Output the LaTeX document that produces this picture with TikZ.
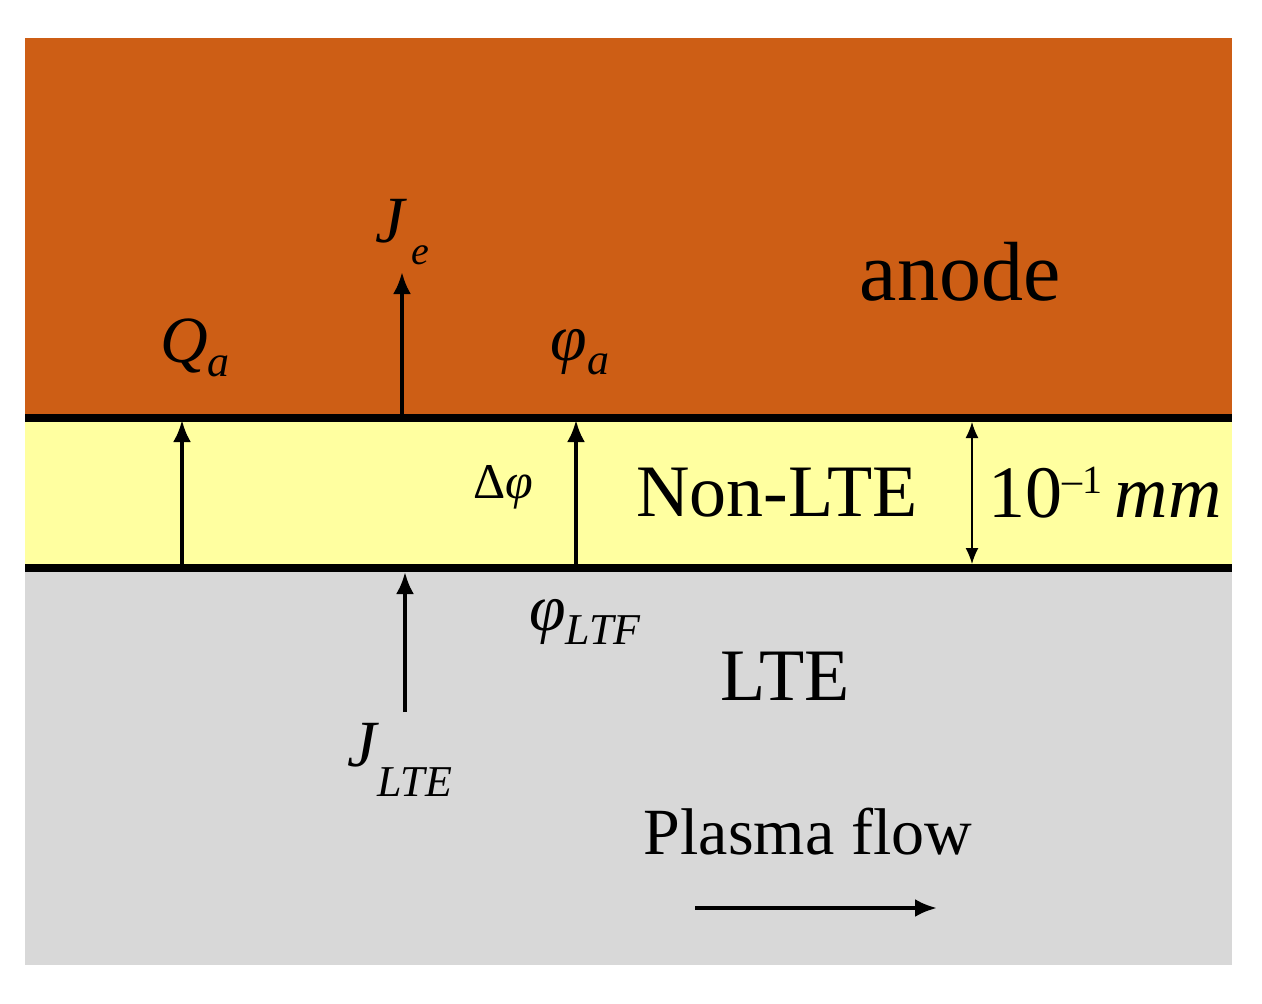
\documentclass[tikz,border=0pt]{standalone}
\usepackage{fontspec}
\setmainfont{Liberation Serif}
\usetikzlibrary{arrows.meta}
\newcommand{\mysub}[2]{\raisebox{#1}{\fontsize{#2}{#2}\selectfont\itshape}}
\begin{document}
\begin{tikzpicture}[x=1pt,y=-1pt,
  arr/.style={line width=4pt,-{Latex[length=22pt,width=18pt]}},
  lbl/.style={inner sep=0pt,font=\fontsize{66}{70}\selectfont}]
\useasboundingbox (0,0) rectangle (1262,1004);
\fill[white] (0,0) rectangle (1262,1004);
\fill[fill={rgb,255:red,205;green,94;blue,21}] (25,38) rectangle (1232,418);
\fill[fill={rgb,255:red,255;green,255;blue,160}] (25,418) rectangle (1232,568);
\fill[fill={rgb,255:red,216;green,216;blue,216}] (25,568) rectangle (1232,965);
\coordinate (tl) at (25,418); \coordinate (tr) at (1232,418);
\coordinate (bl) at (25,568); \coordinate (br) at (1232,568);
\draw[line width=8pt] (tl) -- (tr);
\draw[line width=8pt] (bl) -- (br);
\coordinate (q0) at (182,568); \coordinate (q1) at (182,420);
\coordinate (j0) at (402,418); \coordinate (j1) at (402,272);
\coordinate (d0) at (576,568); \coordinate (d1) at (576,420);
\coordinate (l0) at (405,712); \coordinate (l1) at (405,572);
\coordinate (p0) at (695,908); \coordinate (p1) at (937,908);
\coordinate (m0) at (972,422); \coordinate (m1) at (972,564);
\draw[arr] (q0) -- (q1);
\draw[arr] (j0) -- (j1);
\draw[arr] (d0) -- (d1);
\draw[arr] (l0) -- (l1);
\draw[arr] (p0) -- (p1);
\draw[line width=1.5pt,{Latex[length=16pt,width=13pt]}-{Latex[length=16pt,width=13pt]}] (m0) -- (m1);
\node[lbl] (qa) at (195,348) {\itshape Q\raisebox{-14pt}{\fontsize{44}{44}\selectfont a}};
\node[lbl] (je) at (402,232) {\itshape J\raisebox{-22pt}{\fontsize{40}{40}\selectfont\,e}};
\node[lbl] (pa) at (580,352) {\itshape φ\raisebox{-14pt}{\fontsize{44}{44}\selectfont a}};
\node[lbl,font=\fontsize{84}{86}\selectfont] (an) at (960,272) {anode};
\node[lbl,font=\fontsize{50}{50}\selectfont] (dp) at (503,487) {Δ\itshape φ};
\node[lbl,font=\fontsize{74}{76}\selectfont] (nl) at (777,493) {Non-LTE};
\node[lbl,font=\fontsize{74}{76}\selectfont] (mm) at (1105,493) {10\raisebox{24pt}{\fontsize{40}{40}\selectfont –1}\,\itshape mm};
\node[lbl] (pl) at (585,622) {\itshape φ\raisebox{-14pt}{\fontsize{44}{44}\selectfont LTF}};
\node[lbl,font=\fontsize{74}{76}\selectfont] (lte) at (785,676) {LTE};
\node[lbl] (jl) at (400,760) {\itshape J\raisebox{-30pt}{\fontsize{44}{44}\selectfont LTE}};
\node[lbl,font=\fontsize{66}{68}\selectfont] (pf) at (808,832) {Plasma flow};
\end{tikzpicture}
\end{document}
